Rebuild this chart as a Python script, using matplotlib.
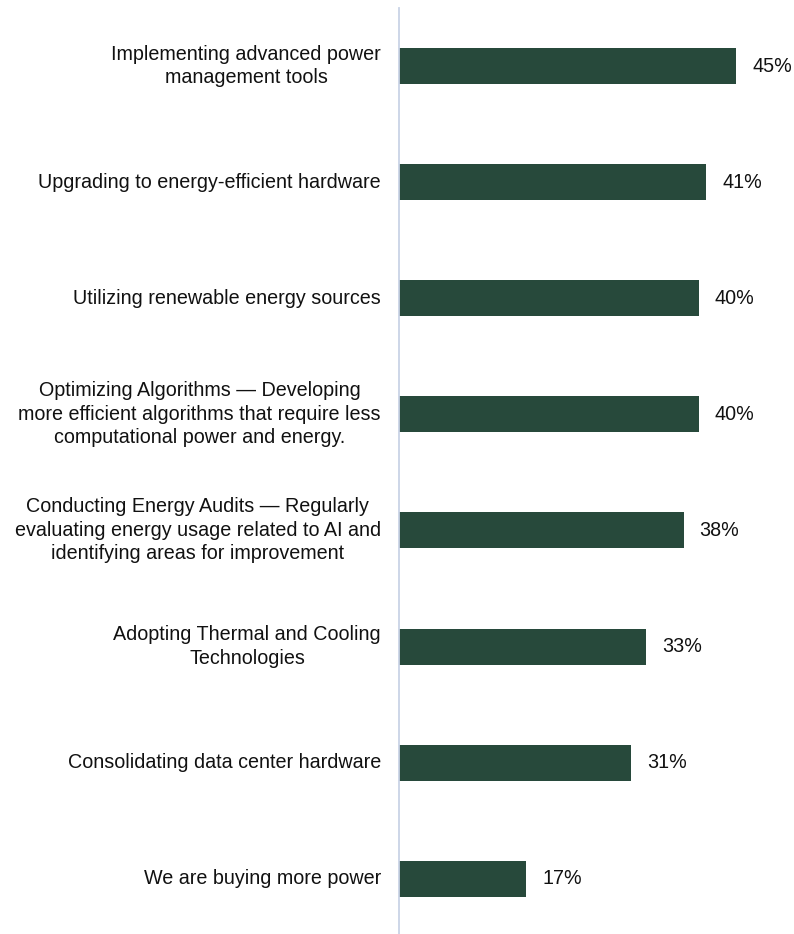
import matplotlib.pyplot as plt
from matplotlib.transforms import ScaledTranslation

plt.rcParams['font.family'] = ['Liberation Sans', 'DejaVu Sans']

# survey answers, top to bottom
labels = [
    "Implementing advanced power\nmanagement tools",
    "Upgrading to energy-efficient hardware",
    "Utilizing renewable energy sources",
    "Optimizing Algorithms \u2014 Developing\nmore efficient algorithms that require less\ncomputational power and energy.",
    "Conducting Energy Audits \u2014 Regularly\nevaluating energy usage related to AI and\nidentifying areas for improvement",
    "Adopting Thermal and Cooling\nTechnologies",
    "Consolidating data center hardware",
    "We are buying more power",
]
values = [45, 41, 40, 40, 38, 33, 31, 17]

bar_color = "#27493b"
axis_color = "#c9d3e6"
text_color = "#111111"

fig = plt.figure(figsize=(7.94, 9.34), dpi=100)
ax = fig.add_axes([0.5025, -0.003, 0.4975, 0.9944])

pos = list(range(len(values)))
ax.barh(pos, values, height=0.31, color=bar_color)

for y, v in zip(pos, values):
    ax.text(v + 2.1, y, f"{v}%", va="center", ha="left", fontsize=14.2, color=text_color)

# category labels, right-aligned block left of the axis line, lines centred
label_tr = ax.get_yaxis_transform() + ScaledTranslation(-0.18, 0, fig.dpi_scale_trans)
for y, lab in zip(pos, labels):
    ax.text(0, y, lab, transform=label_tr, ha="right", va="center",
            multialignment="center", fontsize=14.2, color=text_color, linespacing=1.3)

ax.set_xlim(0, 52.7)
ax.set_ylim(7.5, -0.5)
ax.set_xticks([])
ax.set_yticks([])

for s in ["top", "right", "bottom"]:
    ax.spines[s].set_visible(False)
ax.spines["left"].set_color(axis_color)
ax.spines["left"].set_linewidth(1.3)

fig.savefig("out.png", dpi=100)
